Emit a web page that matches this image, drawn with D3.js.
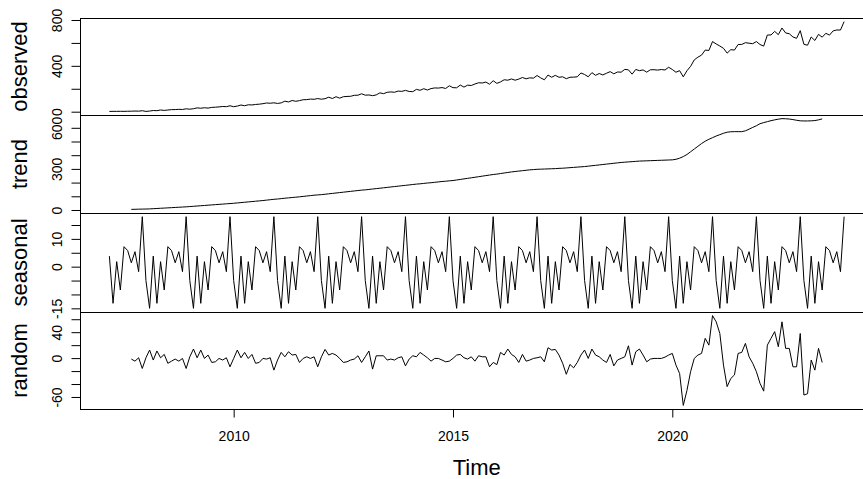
<!DOCTYPE html>
<html>
<head>
<meta charset="utf-8">
<script src="https://cdn.jsdelivr.net/npm/d3@7"></script>
<style>
  html, body { margin: 0; padding: 0; background: #fff; }
  svg { display: block; }
</style>
</head>
<body>
<svg id="chart" width="863" height="479"></svg>
<script>
/* Classical decomposition of a monthly series (observed / trend / seasonal / random) */

// ── Data ───────────────────────────────────────────────────────────────────
const START_YEAR = 2007;
const START_MONTH = 3;      // first observation: March 2007
const TREND_OFFSET = 6;     // 12-month MA drops 6 months at each end

const observed = [
  2.5, 3, 3, 3.5, 3, 4, 4.4, 5.7, 4.7, 8.5,
  2.5, 5.4, 10.3, 8.8, 14.8, 11.3, 14.7, 18.1, 18.4, 20.7, 19.2, 25,
  22, 26, 33.3, 30.2, 34.3, 31.3, 37.5, 39.1, 41.9, 45.4, 43.7, 51.6,
  43.5, 48.9, 58.3, 52.1, 60.3, 58.8, 63.2, 65.6, 69.9, 75.9, 73.7, 77.4,
  72, 76.8, 91.8, 85.1, 97.5, 90.8, 96.5, 104.3, 105.4, 109.9, 108.2, 114.6,
  109, 113.4, 126.5, 115, 130.5, 118.1, 130.5, 133.1, 134.4, 142.9, 143.8, 156.3,
  144, 146, 139.8, 146.4, 164.4, 157.2, 169.2, 172.3, 169.4, 179.9, 177.2, 186,
  176.5, 174.6, 194.8, 186.6, 200.5, 189.1, 201.5, 207.3, 205.9, 210.4, 202.5, 226.3,
  209.5, 208.7, 232.5, 214.3, 231.3, 228.6, 241.5, 252.4, 250.4, 258.4, 239.8, 270.3,
  247, 259.8, 278.5, 274.8, 285.5, 274.6, 284.5, 298.5, 286.7, 295.4, 292.7, 315.5,
  295, 278.3, 319.8, 300.2, 317.2, 300.3, 304.2, 287.8, 300.6, 301.4, 304.5, 337.7,
  324.4, 304.5, 340.8, 317.5, 332.8, 320.6, 335.5, 349.5, 330.4, 346.4, 344.7, 369,
  365, 327.2, 368.6, 357.8, 364.5, 344.9, 365.7, 366.3, 362.9, 367.9, 363.7, 387.7,
  368.2, 344.2, 358, 303.8, 356.8, 395.6, 451.7, 475.5, 493.6, 537.9, 534.2, 611.6,
  591, 573, 553, 510.8, 541.3, 537.6, 586.4, 586.6, 602.1, 597.4, 593.2, 612,
  586, 572, 668.8, 669.3, 700.6, 672.2, 730.2, 686.8, 680.4, 652, 639.8, 707,
  588, 580, 651.8, 621.2, 674.8, 649.9, 684, 668, 705, 713, 712, 786
];

const trend = [
  4.5, 5, 6, 6.5,
  7, 8, 9.5, 11, 12.5, 14, 15.5, 17, 18.5, 20, 21.5, 23,
  25, 27, 29, 31, 33, 35, 37, 39, 41, 43, 45, 47,
  49, 51.5, 54, 56.5, 59, 61.5, 64, 66.5, 69, 72, 75, 78,
  80, 83, 86, 88.5, 91, 93.5, 96, 99, 102, 105, 108, 110,
  112, 115, 118, 121, 124, 127, 130, 133, 136, 139, 142, 145,
  147, 150, 153, 156, 159, 162, 165, 168, 171, 174, 177, 180,
  183, 186, 189, 191, 194, 197, 199, 202, 205, 208, 210, 213,
  215, 219, 223, 227, 231, 235, 239, 243, 247, 251, 255, 259,
  262, 266, 270, 274, 278, 281, 284, 287, 290, 293, 295, 297,
  298, 299, 300, 301, 302, 304, 305, 307, 309, 311, 313, 315,
  317, 320, 323, 326, 329, 332, 335, 338, 341, 344, 347, 349,
  351, 353, 355, 357, 358, 359, 360, 361, 362, 363, 364, 365,
  366, 370, 378, 390, 405, 425, 445, 465, 485, 502, 516, 528,
  540, 550, 560, 568, 571, 572, 572, 572, 578, 590, 603, 615,
  630, 638, 645, 652, 658, 663, 667, 666, 664, 660, 655, 651,
  650, 650, 651, 653, 658, 665
];

const seasonal = [
  3.8, -13.2, 1.8, -8.4, 7.2, 5.8, 1.4, 5.4, -1.8, 18,
  -5, -15, 3.8, -13.2, 1.8, -8.4, 7.2, 5.8, 1.4, 5.4, -1.8, 18,
  -5, -15, 3.8, -13.2, 1.8, -8.4, 7.2, 5.8, 1.4, 5.4, -1.8, 18,
  -5, -15, 3.8, -13.2, 1.8, -8.4, 7.2, 5.8, 1.4, 5.4, -1.8, 18,
  -5, -15, 3.8, -13.2, 1.8, -8.4, 7.2, 5.8, 1.4, 5.4, -1.8, 18,
  -5, -15, 3.8, -13.2, 1.8, -8.4, 7.2, 5.8, 1.4, 5.4, -1.8, 18,
  -5, -15, 3.8, -13.2, 1.8, -8.4, 7.2, 5.8, 1.4, 5.4, -1.8, 18,
  -5, -15, 3.8, -13.2, 1.8, -8.4, 7.2, 5.8, 1.4, 5.4, -1.8, 18,
  -5, -15, 3.8, -13.2, 1.8, -8.4, 7.2, 5.8, 1.4, 5.4, -1.8, 18,
  -5, -15, 3.8, -13.2, 1.8, -8.4, 7.2, 5.8, 1.4, 5.4, -1.8, 18,
  -5, -15, 3.8, -13.2, 1.8, -8.4, 7.2, 5.8, 1.4, 5.4, -1.8, 18,
  -5, -15, 3.8, -13.2, 1.8, -8.4, 7.2, 5.8, 1.4, 5.4, -1.8, 18,
  -5, -15, 3.8, -13.2, 1.8, -8.4, 7.2, 5.8, 1.4, 5.4, -1.8, 18,
  -5, -15, 3.8, -13.2, 1.8, -8.4, 7.2, 5.8, 1.4, 5.4, -1.8, 18,
  -5, -15, 3.8, -13.2, 1.8, -8.4, 7.2, 5.8, 1.4, 5.4, -1.8, 18,
  -5, -15, 3.8, -13.2, 1.8, -8.4, 7.2, 5.8, 1.4, 5.4, -1.8, 18,
  -5, -15, 3.8, -13.2, 1.8, -8.4, 7.2, 5.8, 1.4, 5.4, -1.8, 18
];

const random = [
  -1.5, -4.7, 0.5, -16,
  0.5, 12.4, -3, 11, 0.5, 5.7, -8, -4.7, -1.5, -4.7, -0.5, -16,
  2, 14, 0.5, 12.4, -0.5, 4.7, -6.7, -5.7, -0.5, -3, 0.5, -13.4,
  -0.5, 12.4, 0.5, 8.8, -0.5, 5.7, -8, -6.7, -0.5, -1.5, 0.5, -18.6,
  -3, 8.8, 2, 9.8, 4.7, 5.7, -6.7, -0.5, 2, -0.5, 2, -13.4,
  2, 13.4, 4.7, 7.2, 4.7, -0.5, -6.7, -5.7, -3, -1.5, 3.6, -6.7,
  2, 11, -17, 3.6, 3.6, 3.6, -3, -1.5, -3, 0.5, 2, -12,
  -1.5, 3.6, 2, 8.8, 4.7, 0.5, -4.7, -0.5, -0.5, -3, -5.7, -4.7,
  -0.5, 4.7, 5.7, 0.5, -1.5, 2, -4.7, 3.6, 2, 2, -13.4, -6.7,
  -10, 8.8, 4.7, 14, 5.7, 2, -6.7, 5.7, -4.7, -3, -0.5, 0.5,
  2, -5.7, 16, 12.4, 13.4, 4.7, -8, -25, -9.8, -15, -6.7, 4.7,
  12.4, -0.5, 14, 4.7, 2, -3, -6.7, 5.7, -12, -3, -0.5, 2,
  19, -10.8, 9.8, 14, 4.7, -5.7, -1.5, -0.5, -0.5, -0.5, 1.5, 4.7,
  7.2, -10.8, -23.8, -73, -50, -21, -0.5, 4.7, 7.2, 30.5, 20, 65.6,
  56, 38, -10.8, -44, -31.5, -26, 7.2, 8.8, 22.7, 2, -8, -21,
  -39, -51, 20, 30.5, 40.8, 17.6, 56, 15, 15, -13.4, -13.4, 38,
  -57, -55, -3, -18.6, 15, -6.7
];

const panelNames = ['observed', 'trend', 'seasonal', 'random'];

// tick positions and the subset R actually labels (others skipped for overlap)
const observedTicks  = [0, 200, 400, 600, 800];
const observedLabels = [0, 400, 800];
const trendTicks     = [0, 100, 200, 300, 400, 500, 600];
const trendLabels    = [0, 300, 600];
const seasonalTicks  = [-15, -10, -5, 0, 5, 10, 15];
const seasonalLabels = [-15, 0, 10];
const randomTicks    = [-60, -40, -20, 0, 20, 40, 60];
const randomLabels   = [-60, 0, 40];

const xTicks = [2010, 2015, 2020];

// ── Layout ─────────────────────────────────────────────────────────────────
const FONT = '"Liberation Sans", Arial, Helvetica, sans-serif';
const PLOT_LEFT = 80;
const PANEL_EDGES = [18, 115, 213, 312, 409];
const TICK = 8.5;

const svg = d3.select('#chart');
svg.append('rect').attr('width', 863).attr('height', 479).attr('fill', '#fff');

const timeOf = (i, offset) => START_YEAR + (START_MONTH - 1 + offset + i) / 12;

const t0 = timeOf(0, 0);
const t1 = timeOf(observed.length - 1, 0);
const tPad = (t1 - t0) * 0.04;

// right edge of the R plot region falls just outside the cropped picture
const PLOT_RIGHT = 873.5;

const x = d3.scaleLinear()
  .domain([t0 - tPad, t1 + tPad])
  .range([PLOT_LEFT, PLOT_RIGHT]);

const panels = [
  { name: panelNames[0], values: observed, offset: 0,            ticks: observedTicks, labels: observedLabels },
  { name: panelNames[1], values: trend,    offset: TREND_OFFSET, ticks: trendTicks,    labels: trendLabels },
  { name: panelNames[2], values: seasonal, offset: 0,            ticks: seasonalTicks, labels: seasonalLabels },
  { name: panelNames[3], values: random,   offset: TREND_OFFSET, ticks: randomTicks,   labels: randomLabels }
];

panels.forEach((p, k) => {
  const top = PANEL_EDGES[k];
  const bottom = PANEL_EDGES[k + 1];

  const [lo, hi] = d3.extent(p.values);
  const pad = (hi - lo) * 0.04;
  const y = d3.scaleLinear()
    .domain([lo - pad, hi + pad])
    .range([bottom, top]);

  // series line
  const line = d3.line()
    .x((d, i) => x(timeOf(i, p.offset)))
    .y(d => y(d));

  svg.append('path')
    .datum(p.values)
    .attr('d', line)
    .attr('fill', 'none')
    .attr('stroke', '#000')
    .attr('stroke-width', 1)
    .attr('stroke-linejoin', 'round');

  // panel box
  svg.append('rect')
    .attr('x', PLOT_LEFT + 0.5)
    .attr('y', top + 0.5)
    .attr('width', PLOT_RIGHT - PLOT_LEFT)
    .attr('height', bottom - top)
    .attr('fill', 'none')
    .attr('stroke', '#000')
    .attr('stroke-width', 1);

  // y axis (labels parallel to axis, like R's las = 0)
  const yAxis = d3.axisLeft(y)
    .tickValues(p.ticks)
    .tickSize(TICK)
    .tickSizeOuter(0)
    .tickFormat(d => p.labels.includes(d) ? String(d) : '');

  const ag = svg.append('g')
    .attr('transform', `translate(${PLOT_LEFT},0)`)
    .call(yAxis);

  ag.select('.domain').remove();
  ag.attr('font-family', FONT).attr('font-size', 14);
  ag.selectAll('line').attr('stroke', '#000');
  ag.selectAll('text')
    .attr('x', null)
    .attr('dy', null)
    .attr('fill', '#000')
    .attr('text-anchor', 'middle')
    .attr('transform', 'translate(-18.5,0) rotate(-90)');

  // panel title
  svg.append('text')
    .attr('transform', `translate(27,${(top + bottom) / 2}) rotate(-90)`)
    .attr('text-anchor', 'middle')
    .attr('font-family', FONT)
    .attr('font-size', 22)
    .attr('fill', '#000')
    .text(p.name);
});

// ── X axis ─────────────────────────────────────────────────────────────────
const xAxis = d3.axisBottom(x)
  .tickValues(xTicks)
  .tickSize(TICK)
  .tickSizeOuter(0)
  .tickPadding(14)
  .tickFormat(d => String(d));

const xg = svg.append('g')
  .attr('transform', `translate(0,${PANEL_EDGES[4]})`)
  .call(xAxis);

xg.select('.domain').remove();
xg.attr('font-family', FONT).attr('font-size', 14);
xg.selectAll('line').attr('stroke', '#000');
xg.selectAll('text').attr('fill', '#000');

svg.append('text')
  .attr('x', (PLOT_LEFT + PLOT_RIGHT) / 2)
  .attr('y', 475)
  .attr('text-anchor', 'middle')
  .attr('font-family', FONT)
  .attr('font-size', 22)
  .attr('fill', '#000')
  .text('Time');
</script>
</body>
</html>
